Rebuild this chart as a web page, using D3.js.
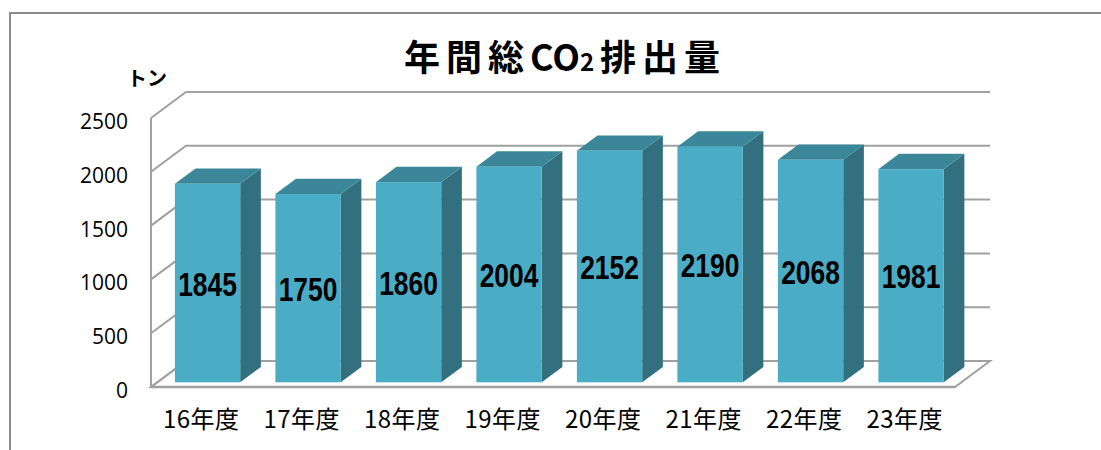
<!DOCTYPE html>
<html><head><meta charset="utf-8">
<script src="https://cdn.jsdelivr.net/npm/d3@7"></script>
<style>
html,body{margin:0;padding:0;background:#fff;}
svg{display:block;}
</style></head>
<body>
<svg id="chart" width="1101" height="450"></svg>
<script>
const unitLabel = "トン";
const categories = ["16年度","17年度","18年度","19年度","20年度","21年度","22年度","23年度"];
const values = [1845,1750,1860,2004,2152,2190,2068,1981];
const yTicks = [0,500,1000,1500,2000,2500];

const svg = d3.select("#chart");
const W = 1101, H = 450;

// frame
svg.append("path").attr("d", `M10,${H} L10,13 L${W},13`)
  .attr("fill","none").attr("stroke","#8c8c8c").attr("stroke-width",2);

// 3D geometry
const frontLeft = 151, frontRight = 955, baseY = 387;
const DX = 35, DY = -26;   // full depth vector
const d0 = 0.18, d1 = 0.77; // bar depth span

const y = d3.scaleLinear().domain([0,2500]).range([baseY, 118]);
const x = d3.scaleBand().domain(categories).range([frontLeft, frontRight])
  .paddingInner(0.35).paddingOuter(0.175);

const P = (px, v, d) => [px + d*DX, y(v) + d*DY];
const poly = pts => "M" + pts.map(p => p.join(",")).join("L") + "Z";

const gridColor = "#a0a0a0";
// floor
svg.append("path")
  .attr("d", poly([P(frontLeft,0,0), P(frontRight,0,0), P(frontRight,0,1), P(frontLeft,0,1)]))
  .attr("fill","#fff").attr("stroke", gridColor).attr("stroke-width",2).attr("stroke-linejoin","miter");

// back wall gridlines and left wall diagonals
yTicks.forEach(t => {
  const a = P(frontLeft,t,0), b = P(frontLeft,t,1), c = P(frontRight,t,1);
  svg.append("path").attr("d", `M${a}L${b}L${c}`)
    .attr("fill","none").attr("stroke", gridColor).attr("stroke-width",2);
});
// front-left vertical axis
svg.append("line")
  .attr("x1", frontLeft).attr("x2", frontLeft)
  .attr("y1", y(0)).attr("y2", y(2500))
  .attr("stroke", gridColor).attr("stroke-width",2);
// front floor edge
svg.append("line")
  .attr("x1", frontLeft).attr("x2", frontRight)
  .attr("y1", y(0)).attr("y2", y(0))
  .attr("stroke", gridColor).attr("stroke-width",2.5);

// y tick labels
svg.append("g").selectAll("text").data(yTicks).join("text")
  .attr("x", 128).attr("y", d => y(d) + 3)
  .attr("text-anchor","end").attr("dominant-baseline","central")
  .attr("font-family","'Open Sans', 'Liberation Sans', sans-serif")
  .attr("font-size", 21).attr("fill","#000")
  .text(d => d);

// bars
const bw = x.bandwidth();
const gBars = svg.append("g");
categories.forEach((c, i) => {
  const v = values[i];
  const xl = x(c), xr = x(c) + bw;
  const g = gBars.append("g");
  g.append("path").attr("d", poly([P(xr,0,d0), P(xr,0,d1), P(xr,v,d1), P(xr,v,d0)]))
    .attr("fill","#32707f");
  g.append("path").attr("d", poly([P(xl,v,d0), P(xr,v,d0), P(xr,v,d1), P(xl,v,d1)]))
    .attr("fill","#3b8799");
  const fl = P(xl,v,d0), fr = P(xr,0,d0);
  g.append("rect").attr("x", fl[0]).attr("y", fl[1])
    .attr("width", fr[0]-fl[0]).attr("height", fr[1]-fl[1])
    .attr("fill","#4bacc6");
  const cx = (fl[0]+fr[0])/2, cy = (fl[1]+fr[1])/2 + 1;
  g.append("text")
    .attr("transform", `translate(${cx},${cy}) scale(0.8,1)`)
    .attr("text-anchor","middle").attr("dominant-baseline","central")
    .attr("font-family","'Liberation Sans', 'DejaVu Sans', sans-serif")
    .attr("font-weight","bold").attr("font-size", 33).attr("fill","#000")
    .text(v);
});

// category labels
svg.append("g").selectAll("text").data(categories).join("text")
  .attr("x", d => x(d) + bw/2).attr("y", 417)
  .attr("text-anchor","middle").attr("dominant-baseline","central")
  .attr("font-family","'Noto Sans CJK JP', sans-serif")
  .attr("font-size", 24).attr("letter-spacing", 0.5).attr("fill","#000")
  .text(d => d);

// unit label
svg.append("text").attr("x", 147).attr("y", 77)
  .attr("text-anchor","middle").attr("dominant-baseline","central")
  .attr("font-family","'Noto Sans CJK JP', sans-serif")
  .attr("font-weight","bold").attr("font-size", 20).attr("fill","#000")
  .text(unitLabel);

// title
const tt = svg.append("text").attr("x", 565).attr("y", 71)
  .attr("text-anchor","middle")
  .attr("font-family","'Noto Sans CJK JP', sans-serif")
  .attr("font-weight","bold").attr("font-size", 36).attr("fill","#000");
tt.append("tspan").attr("letter-spacing", 6).text("年間総");
tt.append("tspan").attr("letter-spacing", 0).text("CO");
tt.append("tspan").attr("font-size", 24).attr("letter-spacing", 6).text("2");
tt.append("tspan").attr("letter-spacing", 6).text("排出量");
</script>
</body></html>
